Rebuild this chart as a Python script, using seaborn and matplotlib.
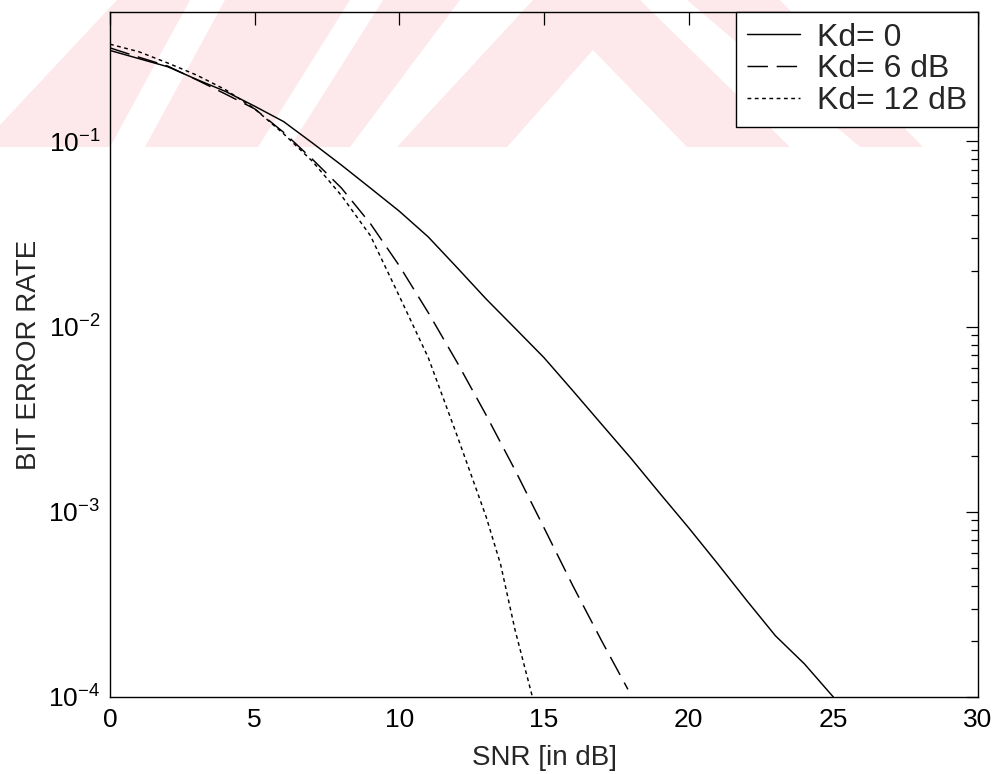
import numpy as np
import pandas as pd
import matplotlib
matplotlib.use("Agg")
import matplotlib.pyplot as plt
import seaborn as sns
from matplotlib.patches import Polygon
from matplotlib.ticker import FixedLocator, LogLocator, NullFormatter, NullLocator

# ---------------- data ----------------
snr_kd0 = [0, 1, 2, 3, 4, 5, 6, 7, 8, 9, 10, 11, 12, 13, 14, 15, 16, 17, 18, 19, 20, 21, 22, 23, 24, 25]
ber_kd0 = [0.31, 0.28, 0.253, 0.216, 0.186, 0.155, 0.128, 0.098, 0.0745, 0.056, 0.042, 0.0305,
           0.0208, 0.0141, 0.0098, 0.0068, 0.0045, 0.00296, 0.00195, 0.00126, 8.2e-4, 5.25e-4,
           3.33e-4, 2.14e-4, 1.51e-4, 1.0e-4]

snr_kd6 = [0, 1, 2, 3, 4, 5, 6, 7, 8, 9, 10, 11, 12, 13, 14, 15, 16, 17, 17.9]
ber_kd6 = [0.32, 0.285, 0.255, 0.215, 0.18, 0.150, 0.112, 0.080, 0.056, 0.036, 0.0213, 0.0119,
           0.0064, 0.00333, 0.00168, 8.2e-4, 3.98e-4, 2.0e-4, 1.1e-4]

snr_kd12 = [0, 1, 2, 3, 4, 5, 6, 7, 8, 9, 10, 11, 12, 13, 13.5, 14, 14.6]
ber_kd12 = [0.335, 0.305, 0.265, 0.228, 0.19, 0.150, 0.110, 0.078, 0.051, 0.031, 0.0146, 0.0068,
            0.00257, 9.4e-4, 5.2e-4, 2.3e-4, 1.0e-4]

series_labels = ["Kd= 0", "Kd= 6 dB", "Kd= 12 dB"]
x_ticks = [0, 5, 10, 15, 20, 25, 30]
y_ticks = [1e-4, 1e-3, 1e-2, 1e-1]
x_label = "SNR [in dB]"
y_label = "BIT ERROR RATE"

df = pd.DataFrame({
    "snr": snr_kd0 + snr_kd6 + snr_kd12,
    "ber": ber_kd0 + ber_kd6 + ber_kd12,
    "case": [series_labels[0]] * len(snr_kd0) + [series_labels[1]] * len(snr_kd6)
            + [series_labels[2]] * len(snr_kd12),
})

# ---------------- style ----------------
sns.set_style("white")
plt.rcParams["font.family"] = ["Liberation Sans", "DejaVu Sans"]
plt.rcParams["mathtext.fontset"] = "custom"
plt.rcParams["mathtext.rm"] = "Liberation Sans"
plt.rcParams["mathtext.it"] = "Liberation Sans:italic"
plt.rcParams["mathtext.bf"] = "Liberation Sans:bold"

FS_TICK = 19
FS_LABEL = 20
FS_LEG = 23

fig = plt.figure(figsize=(10, 7.74), dpi=100)
fig.patch.set_facecolor("white")

# faint scanned watermark band at the top (pixel coords, y downward)
wm_shapes = [
    [(0, 125), (117, 0), (190, 0), (110, 147), (0, 147)],
    [(145, 147), (225, 0), (350, 0), (258, 147)],
    [(290, 147), (383, 0), (460, 0), (350, 147)],
    [(397, 147), (533, 0), (640, 0), (790, 147), (687, 147), (593, 50), (507, 147)],
    [(687, 0), (780, 0), (923, 147), (860, 147)],
]
for shp in wm_shapes:
    pts = [(px / 1000.0, 1 - py / 774.0) for px, py in shp]
    fig.add_artist(Polygon(pts, closed=True, transform=fig.transFigure,
                           facecolor="#fde8ec", edgecolor="none", zorder=-5))

# axes box: x 110..978 px, y 12..697 px
ax = fig.add_axes([0.110, 1 - 697 / 774, 0.868, (697 - 12) / 774])
ax.set_facecolor("none")

sns.lineplot(data=df, x="snr", y="ber", hue="case", style="case",
             palette=["black"] * 3,
             dashes={series_labels[0]: "", series_labels[1]: (14, 6), series_labels[2]: (2.6, 2.4)},
             linewidth=1.05, estimator=None, sort=False, ax=ax)

ax.set_yscale("log")
ax.set_xlim(0, 30)
ax.set_ylim(1e-4, 0.5)

ax.xaxis.set_major_locator(FixedLocator(x_ticks))
ax.xaxis.set_minor_locator(NullLocator())
ax.yaxis.set_major_locator(FixedLocator(y_ticks))
ax.yaxis.set_minor_locator(LogLocator(base=10, subs=np.arange(2, 10), numticks=20))
ax.yaxis.set_minor_formatter(NullFormatter())

ax.tick_params(which="both", direction="in", top=True, right=True, colors="black",
               labelsize=FS_TICK, width=0.9)
ax.tick_params(which="major", length=9)
ax.tick_params(which="minor", length=5)
ax.tick_params(axis="x", which="major", pad=8)
ax.tick_params(axis="y", which="major", pad=7)
for s in ax.spines.values():
    s.set_color("black")
    s.set_linewidth(1.0)
    s.set_visible(True)

ax.set_xlabel(x_label, fontsize=FS_LABEL)
ax.set_ylabel(y_label, fontsize=FS_LABEL)
ax.xaxis.set_label_coords(0.5, -(745 - 697) / 685)
ax.yaxis.set_label_coords(-(110 - 42) / 868, 0.5)

handles, labels = ax.get_legend_handles_labels()
leg = ax.legend(handles, labels, loc="upper right", borderaxespad=0, fontsize=FS_LEG,
                frameon=True, fancybox=False, framealpha=1, facecolor="white",
                edgecolor="black", handlelength=1.65, handletextpad=0.55,
                labelspacing=0.06, borderpad=0.33)
leg.get_frame().set_linewidth(1.0)

fig.savefig("out.png", dpi=100, facecolor="white")
